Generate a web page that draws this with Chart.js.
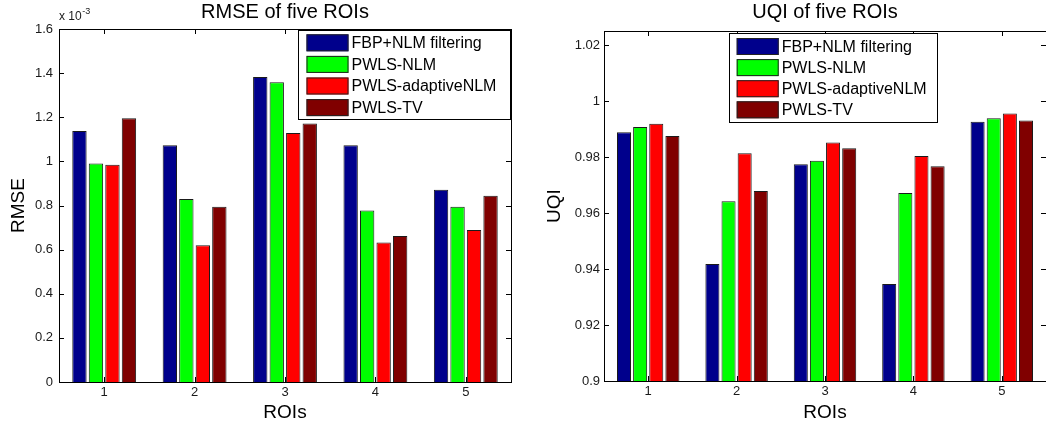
<!DOCTYPE html>
<html>
<head>
<meta charset="utf-8">
<script src="https://cdn.jsdelivr.net/npm/chart.js@4/dist/chart.umd.min.js"></script>
<style>
  html, body { margin: 0; padding: 0; background: #fff; }
  #wrap { position: relative; width: 1046px; height: 427px; overflow: hidden; }
  #rmse { position: absolute; left: 0; top: 0; }
  #uqi { position: absolute; left: 520px; top: 0; }
</style>
</head>
<body>
<div id="wrap">
  <canvas id="rmse" width="520" height="427"></canvas>
  <canvas id="uqi" width="526" height="427"></canvas>
</div>
<script>
// ROI indices and the four reconstruction methods
const rois = ['1', '2', '3', '4', '5'];
const methods = ['FBP+NLM filtering', 'PWLS-NLM', 'PWLS-adaptiveNLM', 'PWLS-TV'];
const methodColors = ['#00008C', '#00FF00', '#FF0000', '#800000'];

// RMSE per ROI, in units of 1e-3
const rmseFbpNlm       = [1.138, 1.073, 1.382, 1.073, 0.871];
const rmsePwlsNlm      = [0.990, 0.829, 1.359, 0.777, 0.794];
const rmsePwlsAdaptive = [0.985, 0.620, 1.129, 0.632, 0.689];
const rmsePwlsTv       = [1.196, 0.794, 1.172, 0.662, 0.844];

// UQI per ROI
const uqiFbpNlm       = [0.9888, 0.9418, 0.9774, 0.9346, 0.9926];
const uqiPwlsNlm      = [0.9907, 0.9642, 0.9787, 0.9671, 0.9938];
const uqiPwlsAdaptive = [0.9919, 0.9813, 0.9852, 0.9804, 0.9955];
const uqiPwlsTv       = [0.9875, 0.9679, 0.9831, 0.9767, 0.9930];

// axis tick values
const rmseTicks = [0, 0.2, 0.4, 0.6, 0.8, 1, 1.2, 1.4, 1.6];
const uqiTicks = [0.9, 0.92, 0.94, 0.96, 0.98, 1, 1.02];

Chart.defaults.font.family = '"Liberation Sans", Arial, Helvetica, sans-serif';
Chart.defaults.color = '#1a1a1a';

// box around the plot area with inward tick marks on all four sides
const framePlugin = {
  id: 'frame',
  afterDatasetsDraw(chart) {
    const { ctx, chartArea: a, scales: { x, y } } = chart;
    const L = 5;
    ctx.save();
    ctx.strokeStyle = '#000';
    ctx.lineWidth = 1;
    ctx.beginPath();
    x.ticks.forEach((t, i) => {
      const px = Math.round(x.getPixelForTick(i)) + 0.5;
      ctx.moveTo(px, a.bottom); ctx.lineTo(px, a.bottom - L);
      ctx.moveTo(px, a.top); ctx.lineTo(px, a.top + L);
    });
    y.ticks.forEach((t, i) => {
      const py = Math.round(y.getPixelForTick(i)) + 0.5;
      ctx.moveTo(a.left, py); ctx.lineTo(a.left + L, py);
      ctx.moveTo(a.right, py); ctx.lineTo(a.right - L, py);
    });
    ctx.stroke();
    ctx.strokeRect(Math.round(a.left) + 0.5, Math.round(a.top) + 0.5,
                   Math.round(a.right - a.left), Math.round(a.bottom - a.top));
    ctx.restore();
  }
};

// boxed legend placed inside the plot area
const boxLegendPlugin = {
  id: 'boxLegend',
  afterDraw(chart, args, o) {
    const { ctx } = chart;
    ctx.save();
    ctx.fillStyle = '#fff';
    ctx.fillRect(o.x, o.y, o.w, o.h);
    ctx.strokeStyle = '#000';
    ctx.lineWidth = 1;
    ctx.strokeRect(o.x + 0.5, o.y + 0.5, o.w, o.h);
    ctx.font = '16px "Liberation Sans", Arial, sans-serif';
    ctx.textBaseline = 'middle';
    ctx.textAlign = 'left';
    chart.data.datasets.forEach((ds, i) => {
      const top = o.y + o.first + i * o.pitch;
      ctx.fillStyle = ds.backgroundColor;
      ctx.fillRect(o.x + o.sx, top, o.sw, o.sh);
      ctx.strokeStyle = '#222';
      ctx.strokeRect(o.x + o.sx + 0.5, top + 0.5, o.sw - 1, o.sh - 1);
      ctx.fillStyle = '#000';
      ctx.fillText(ds.label, o.x + o.sx + o.sw + 3, top + o.sh / 2 + 1);
    });
    ctx.restore();
  }
};

// "x 10^-3" multiplier above the RMSE axis
const exponentPlugin = {
  id: 'exponent',
  afterDraw(chart, args, o) {
    if (!o.text) return;
    const { ctx, chartArea: a } = chart;
    ctx.save();
    ctx.fillStyle = '#1a1a1a';
    ctx.textBaseline = 'alphabetic';
    ctx.textAlign = 'left';
    ctx.font = '12px "Liberation Sans", Arial, sans-serif';
    const base = 'x 10';
    ctx.fillText(base, a.left, a.top - 9);
    const w = ctx.measureText(base).width;
    ctx.font = '9px "Liberation Sans", Arial, sans-serif';
    ctx.fillText(o.text, a.left + w + 0.5, a.top - 15);
    ctx.restore();
  }
};

function makeDatasets(series) {
  return series.map((vals, i) => ({
    label: methods[i],
    data: vals,
    backgroundColor: methodColors[i],
    borderColor: '#1a1a1a',
    borderWidth: 1,
    borderSkipped: 'start',
    categoryPercentage: 0.73,
    barPercentage: 0.87
  }));
}

function makeChart(canvasId, cfg) {
  return new Chart(document.getElementById(canvasId), {
    type: 'bar',
    data: { labels: rois, datasets: makeDatasets(cfg.series) },
    plugins: [framePlugin, boxLegendPlugin, exponentPlugin],
    options: {
      responsive: false,
      animation: false,
      layout: { padding: cfg.padding },
      plugins: {
        legend: { display: false },
        tooltip: { enabled: false },
        title: {
          display: true,
          text: cfg.title,
          fullSize: false,
          color: '#000',
          font: { size: 20, weight: 'normal', lineHeight: 1.2 },
          padding: { top: 0, bottom: cfg.titleGap }
        },
        boxLegend: cfg.legend,
        exponent: { text: cfg.exponent || '' }
      },
      scales: {
        x: {
          type: 'category',
          offset: true,
          grid: { display: false, drawTicks: false },
          border: { display: false },
          ticks: { font: { size: 13 }, padding: 3, color: '#1a1a1a' },
          title: {
            display: true, text: 'ROIs', color: '#000',
            font: { size: 19, lineHeight: 1.2 }, padding: { top: 0, bottom: 2.6 }
          },
          afterFit(scale) { scale.height = cfg.xHeight; }
        },
        y: {
          type: 'linear',
          min: cfg.ticks[0],
          max: cfg.yMax,
          grid: { display: false, drawTicks: false },
          border: { display: false },
          afterBuildTicks(scale) { scale.ticks = cfg.ticks.map(v => ({ value: v })); },
          ticks: {
            font: { size: 13 }, padding: cfg.yPad, color: '#1a1a1a',
            callback: v => String(Math.round(v * 1000) / 1000)
          },
          title: {
            display: true, text: cfg.yTitle, color: '#000',
            font: { size: 19, lineHeight: 1.2 }, padding: { top: cfg.yTitlePad, bottom: 0 }
          },
          afterFit(scale) { scale.width = cfg.yWidth; }
        }
      }
    }
  });
}

makeChart('rmse', {
  title: 'RMSE of five ROIs',
  yTitle: 'RMSE',
  series: [rmseFbpNlm, rmsePwlsNlm, rmsePwlsAdaptive, rmsePwlsTv],
  ticks: rmseTicks,
  yMax: 1.6,
  exponent: '-3',
  padding: { top: 0, left: 0, right: 9, bottom: 0 },
  titleGap: 5,
  xHeight: 45,
  yWidth: 59,
  yPad: 6,
  yTitlePad: 6.9,
  legend: { x: 298, y: 30, w: 212, h: 89, sx: 8.5, sw: 42, sh: 17, first: 4.3, pitch: 21.6 }
});

makeChart('uqi', {
  title: 'UQI of five ROIs',
  yTitle: 'UQI',
  series: [uqiFbpNlm, uqiPwlsNlm, uqiPwlsAdaptive, uqiPwlsTv],
  ticks: uqiTicks,
  yMax: 1.025,
  padding: { top: 0, left: 0, right: 0, bottom: 0 },
  titleGap: 7,
  xHeight: 46,
  yWidth: 84,
  yPad: 4,
  yTitlePad: 23.6,
  legend: { x: 209, y: 33, w: 208, h: 89, sx: 7.7, sw: 42, sh: 17, first: 5, pitch: 21.1 }
});
</script>
</body>
</html>
